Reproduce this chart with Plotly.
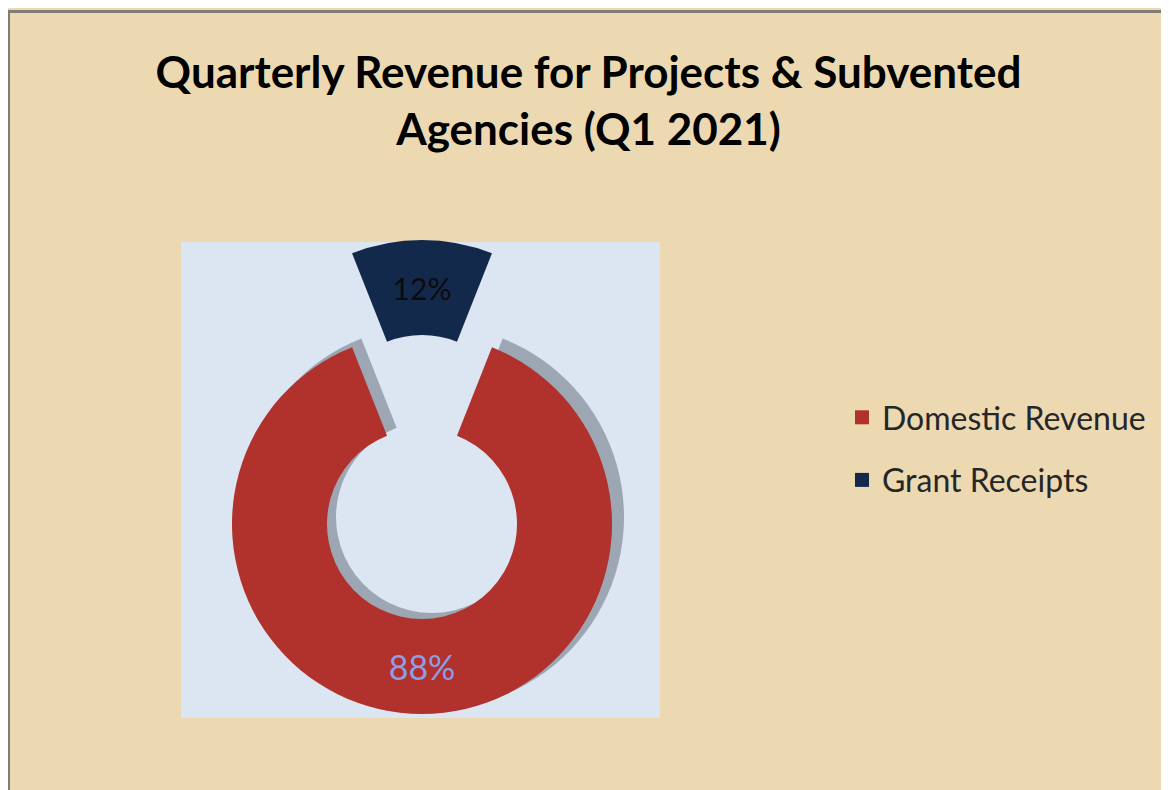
import plotly.graph_objects as go

# ---- data ----
categories = ["Domestic Revenue", "Grant Receipts"]
values = [88, 12]
title_text = "Quarterly Revenue for Projects & Subvented<br>Agencies (Q1 2021)"

# ---- styles ----
# the page body has an 8px margin; figure sized to fit the 1169x790 window
OX, OY = 8, 8
W, H = 1169 - OX, 790 - OY
RED = "#b1312c"
NAVY = "#13294b"
CLEAR = "rgba(0,0,0,0)"
FONT = "Lato"


def px(x):
    return (x - OX) / W


def py(y):
    return 1 - (y - OY) / H


def dom(cx, cy, r):
    """domain (paper coords) for a pie of radius r centred at page pixel (cx, cy)"""
    return dict(x=[px(cx - r), px(cx + r)], y=[py(cy + r), py(cy - r)])


R = 190
CX, CY = 422, 524
PULL_SHIFT = 94

common = dict(
    labels=categories,
    values=values,
    hole=0.5,
    sort=False,
    direction="clockwise",
    rotation=21.6,
    showlegend=False,
    hoverinfo="label+percent",
    textposition="inside",
    insidetextorientation="horizontal",
)

fig = go.Figure()

# shadow of the ring
fig.add_trace(go.Pie(
    **common,
    domain=dom(CX + 10, CY - 7, R + 2),
    marker=dict(colors=["rgba(70,80,95,0.42)", CLEAR], line=dict(width=0)),
    texttemplate=["", ""],
))

# main (domestic) ring
fig.add_trace(go.Pie(
    **common,
    domain=dom(CX, CY, R),
    marker=dict(colors=[RED, CLEAR], line=dict(width=0)),
    texttemplate=["%{percent:.0%}", ""],
    textfont=dict(family=FONT, size=34, color=["#8d9de6", CLEAR]),
))

# exploded grant slice
fig.add_trace(go.Pie(
    **common,
    domain=dom(CX, CY - PULL_SHIFT, R),
    marker=dict(colors=[CLEAR, NAVY], line=dict(width=0)),
    texttemplate=["", "%{percent:.0%}"],
    textfont=dict(family=FONT, size=30, color=[CLEAR, "#0b0b0b"]),
))

# legend entries
for name, col in zip(categories, [RED, NAVY]):
    fig.add_trace(go.Scatter(
        x=[None], y=[None], mode="markers", name=name, legendgroup=name,
        marker=dict(symbol="square", size=14, color=col), hoverinfo="skip",
    ))

fig.update_layout(
    width=W, height=H,
    margin=dict(l=0, r=0, t=0, b=0),
    paper_bgcolor="#ecd9b2",
    plot_bgcolor="#dce6f2",
    xaxis=dict(visible=False, domain=[px(181), px(660)], range=[0, 1], fixedrange=True),
    yaxis=dict(visible=False, domain=[py(718), py(242)], range=[0, 1], fixedrange=True),
    title=dict(
        text=title_text,
        x=0.5, xanchor="center",
        y=1 - 80 / H, yanchor="middle",
        font=dict(family=FONT, size=44, color="#000000", weight="bold"),
    ),
    legend=dict(
        x=px(842), xanchor="left",
        y=py(390), yanchor="top",
        traceorder="grouped",
        tracegroupgap=18,
        itemsizing="trace",
        font=dict(family=FONT, size=32, color="#262626"),
        bgcolor=CLEAR,
    ),
    shapes=[
        dict(type="line", xref="paper", yref="paper", x0=0, x1=1, y0=py(11.5), y1=py(11.5),
             line=dict(color="#7d7d76", width=3)),
        dict(type="line", xref="paper", yref="paper", x0=px(8.5), x1=px(8.5), y0=0, y1=py(11.5),
             line=dict(color="#7d7d76", width=3)),
    ],
)

fig.write_html("out.html")
